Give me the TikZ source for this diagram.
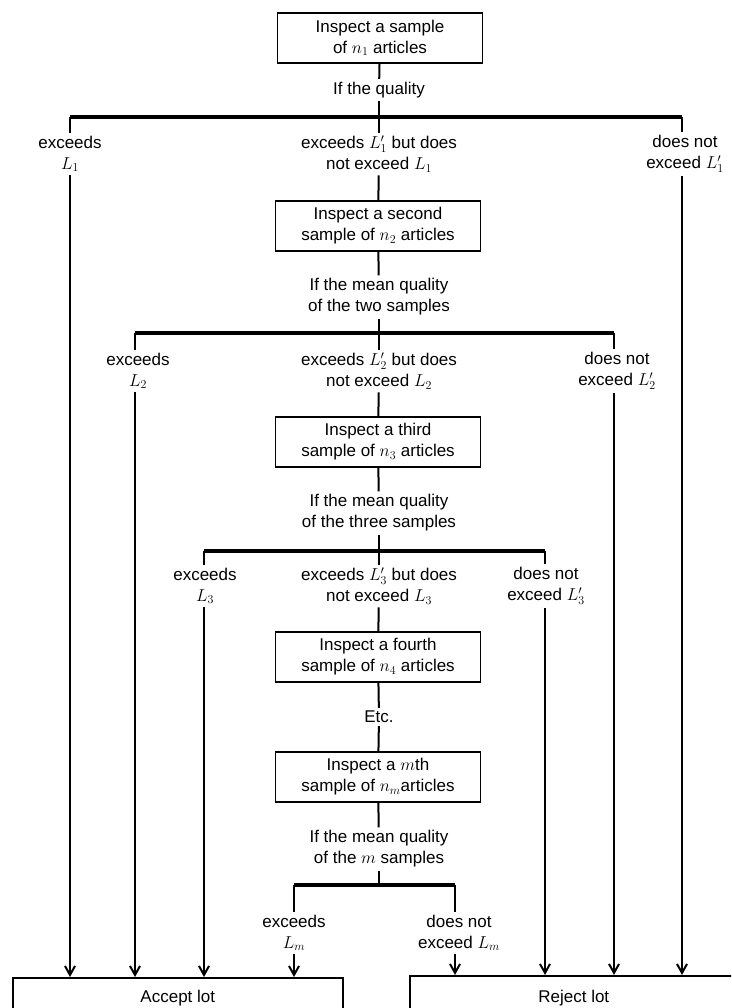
\documentclass[tikz,border=0pt]{standalone}
\usepackage{fontspec}
\setmainfont{Liberation Sans}
\DeclareMathSizes{17}{19}{13}{10}
\usetikzlibrary{arrows.meta}
\tikzset{
  every node/.append style={font=\fontsize{17}{21}\selectfont},
  box/.style={draw, line width=1.6pt, minimum width=205pt, minimum height=50pt, align=center, inner sep=2pt},
  lbl/.style={align=center, inner sep=3pt},
  endbox/.style={draw, line width=1.6pt, minimum height=40pt, anchor=north west, inner sep=0pt},
  barline/.style={line width=3.2pt},
  vline/.style={line width=2pt},
  arr/.style={line width=2.4pt, -{Straight Barb[length=9pt,width=10pt,line width=2pt]}}
}
\begin{document}
\begin{tikzpicture}[x=1pt,y=-1pt]
\useasboundingbox (0,0) rectangle (731,1008);
\clip (0,0) rectangle (731,1008);
\fill[white] (0,0) rectangle (731,1008);

% end boxes
\node[endbox, minimum width=330pt] (acc) at (12,977) {};
\node at (acc.center) {Accept lot};
\node[endbox, minimum width=328pt] (rej) at (409,975) {};
\node at ([yshift=-2pt]rej.center) {Reject lot};

% level 1
\node[box] (b1) at (380,38) {Inspect a sample\\of $n_1$ articles};
\node[lbl] (q1) at (379,90) {If the quality};
\coordinate (k1L) at (70,117);
\coordinate (k1C) at (379,117);
\coordinate (k1R) at (682,117);
\node[lbl] (l1L) at (70,154) {exceeds\\$L_1$};
\node[lbl] (l1C) at (379,154) {exceeds $L'_1$ but does\\not exceed $L_1$};
\node[lbl] (l1R) at (685,154) {does not\\exceed $L'_1$};

% level 2
\node[box] (b2) at (378,226) {Inspect a second\\sample of $n_2$ articles};
\node[lbl] (q2) at (379,297) {If the mean quality\\of the two samples};
\coordinate (k2L) at (135,333);
\coordinate (k2C) at (379,333);
\coordinate (k2R) at (614,333);
\node[lbl] (l2L) at (138,371) {exceeds\\$L_2$};
\node[lbl] (l2C) at (379,371) {exceeds $L'_2$ but does\\not exceed $L_2$};
\node[lbl] (l2R) at (617,371) {does not\\exceed $L'_2$};

% level 3
\node[box] (b3) at (378,442) {Inspect a third\\sample of $n_3$ articles};
\node[lbl] (q3) at (379,513) {If the mean quality\\of the three samples};
\coordinate (k3L) at (204,551);
\coordinate (k3C) at (379,551);
\coordinate (k3R) at (545,551);
\node[lbl] (l3L) at (205,586) {exceeds\\$L_3$};
\node[lbl] (l3C) at (379,586) {exceeds $L'_3$ but does\\not exceed $L_3$};
\node[lbl] (l3R) at (546,586) {does not\\exceed $L'_3$};

% level 4 and m
\node[box] (b4) at (378,657) {Inspect a fourth\\sample of $n_4$ articles};
\node[lbl] (etc) at (379,717) {Etc.};
\node[box] (bm) at (378,777) {Inspect a $m$th\\sample of $n_m$articles};
\node[lbl] (qm) at (379,849) {If the mean quality\\of the $m$ samples};
\coordinate (kmL) at (294,885);
\coordinate (kmC) at (379,885);
\coordinate (kmR) at (455,885);
\node[lbl] (lmL) at (294,933) {exceeds\\$L_m$};
\node[lbl] (lmR) at (459,933) {does not\\exceed $L_m$};

% spine
\draw[vline] (b1) -- (q1);
\draw[vline] (q1) -- (k1C);
\draw[vline] (k1C) -- (l1C);
\draw[vline] (l1C) -- (b2);
\draw[vline] (b2) -- (q2);
\draw[vline] (q2) -- (k2C);
\draw[vline] (k2C) -- (l2C);
\draw[vline] (l2C) -- (b3);
\draw[vline] (b3) -- (q3);
\draw[vline] (q3) -- (k3C);
\draw[vline] (k3C) -- (l3C);
\draw[vline] (l3C) -- (b4);
\draw[vline] (b4) -- (etc);
\draw[vline] (etc) -- (bm);
\draw[vline] (bm) -- (qm);
\draw[vline] (qm) -- (kmC);

% bars
\draw[barline] (k1L) -- (k1R);
\draw[barline] (k2L) -- (k2R);
\draw[barline] (k3L) -- (k3R);
\draw[barline] (kmL) -- (kmR);

% stubs from bars to labels
\draw[vline] (k1L) -- (k1L |- l1L.north);
\draw[vline] (k1R) -- (k1R |- l1R.north);
\draw[vline] (k2L) -- (k2L |- l2L.north);
\draw[vline] (k2R) -- (k2R |- l2R.north);
\draw[vline] (k3L) -- (k3L |- l3L.north);
\draw[vline] (k3R) -- (k3R |- l3R.north);
\draw[vline] (kmL) -- (kmL |- lmL.north);
\draw[vline] (kmR) -- (kmR |- lmR.north);

% arrows to accept
\draw[arr] (k1L |- l1L.south) -- (k1L |- acc.north);
\draw[arr] (k2L |- l2L.south) -- (k2L |- acc.north);
\draw[arr] (k3L |- l3L.south) -- (k3L |- acc.north);
\draw[arr] (kmL |- lmL.south) -- (kmL |- acc.north);
% arrows to reject
\draw[arr] (kmR |- lmR.south) -- (kmR |- rej.north);
\draw[arr] (k3R |- l3R.south) -- (k3R |- rej.north);
\draw[arr] (k2R |- l2R.south) -- (k2R |- rej.north);
\draw[arr] (k1R |- l1R.south) -- (k1R |- rej.north);
\end{tikzpicture}
\end{document}
